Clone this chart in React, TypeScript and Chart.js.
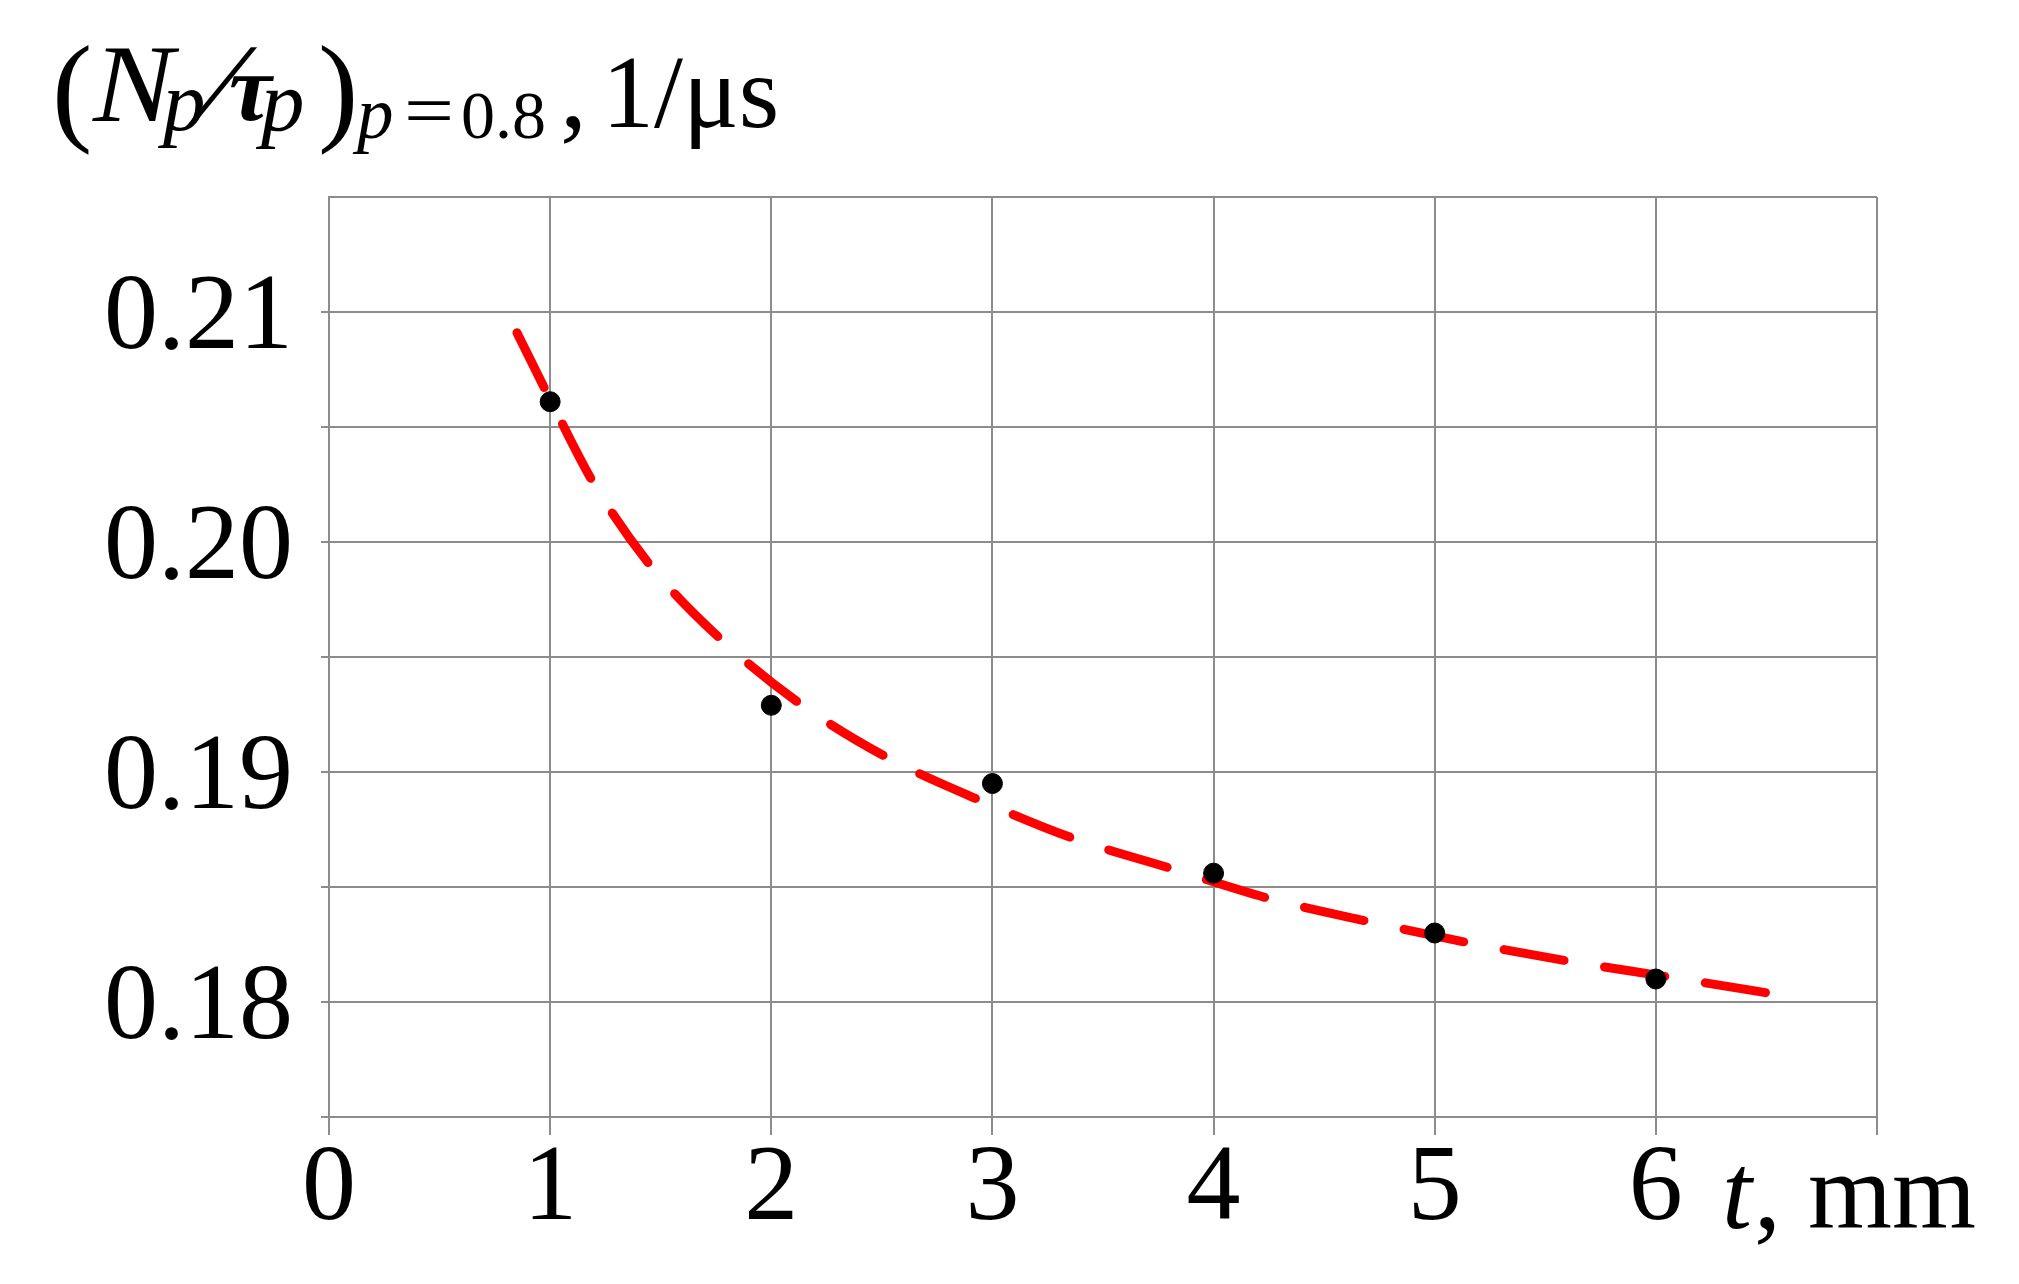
import React, { useEffect, useRef } from 'react';
import { Chart, registerables } from 'chart.js';

Chart.register(...registerables);

// Measured points: thickness t (mm) and (N_p/tau_p) at p = 0.8 (1/us)
const thicknessMm = [1, 2, 3, 4, 5, 6];
const rateValues = [0.2061, 0.1929, 0.1895, 0.1856, 0.183, 0.181];

// Fitted dashed curve
const fitT = [0.85, 1.0, 1.2, 1.46, 1.78, 2.14, 2.53, 2.96, 3.37, 3.81, 4.25, 4.7, 5.14, 5.59, 6.05, 6.5];
const fitRate = [0.2091, 0.2062, 0.2025, 0.1989, 0.1957, 0.1929, 0.1906, 0.1887, 0.1871, 0.1858, 0.1845, 0.1835, 0.1826, 0.1818, 0.1811, 0.1804];

// Tick labels
const xTickLabels = ['0', '1', '2', '3', '4', '5', '6'];
const yTickLabels = ['0.18', '0.19', '0.20', '0.21'];

const SERIF = '"Liberation Serif", "Times New Roman", serif';
const GRID = '#8c8c8c';

const mathTitles = {
  id: 'mathTitles',
  afterDraw(chart: any) {
    const ctx = chart.ctx as CanvasRenderingContext2D;
    ctx.save();
    ctx.fillStyle = '#000';
    ctx.textAlign = 'left';
    ctx.textBaseline = 'alphabetic';
    const put = (text: string, x: number, y: number, size: number, style = '', sx = 1, skew = 0) => {
      ctx.save();
      ctx.translate(x, y);
      ctx.transform(sx, 0, -skew, 1, 0, 0);
      ctx.font = `${style} ${size}px ${SERIF}`;
      ctx.fillText(text, 0, 0);
      ctx.restore();
    };
    // y-axis title: (N_p/τ_p)_{p = 0.8}, 1/μs
    put('(', 52, 129, 121);
    put('N', 93, 121, 110, 'italic', 1.1);
    put('p', 163, 130, 85, 'italic');
    put('/', 192, 125, 118, 'italic', 1, 0.3);
    put('τ', 229, 120, 96, 'italic bold');
    put('p', 261, 130, 87, 'italic');
    put(')', 318, 129, 121);
    put('p', 357, 138, 73, 'italic');
    put('=', 404, 135, 74, '', 1.2);
    put('0.8', 461, 138, 68);
    put(',', 560, 127, 108);
    put('1/μs', 602, 127, 104);
    // x-axis title: t, mm
    put('t', 1722, 1228, 108, 'italic');
    put(', mm', 1754, 1228, 108);
    ctx.restore();
  },
};

export default function App() {
  const canvasRef = useRef<HTMLCanvasElement | null>(null);

  useEffect(() => {
    const canvas = canvasRef.current;
    if (!canvas) return;
    const chart = new Chart(canvas, {
      type: 'scatter',
      data: {
        datasets: [
          {
            label: 'measured',
            data: thicknessMm.map((t, i) => ({ x: t, y: rateValues[i] })),
            backgroundColor: '#000',
            borderColor: '#000',
            pointRadius: 10,
            pointHoverRadius: 10,
            showLine: false,
            order: 0,
          },
          {
            label: 'fit',
            data: fitT.map((t, i) => ({ x: t, y: fitRate[i] })),
            showLine: true,
            borderColor: '#ff0000',
            borderWidth: 9,
            borderDash: [61, 41],
            borderCapStyle: 'round',
            cubicInterpolationMode: 'monotone',
            pointRadius: 0,
            pointHoverRadius: 0,
            fill: false,
            order: 1,
          },
        ],
      },
      options: {
        animation: false,
        responsive: true,
        maintainAspectRatio: false,
        layout: { padding: { left: 0, right: 142, top: 197, bottom: 0 } },
        plugins: {
          legend: { display: false },
          tooltip: { enabled: false },
          title: { display: false },
        },
        scales: {
          x: {
            type: 'linear',
            min: 0,
            max: 7,
            afterFit: (scale: any) => {
              scale.height = 167;
            },
            grid: {
              color: GRID,
              lineWidth: 2,
              tickLength: 18,
              tickColor: GRID,
              tickWidth: 2,
            },
            border: { display: true, color: GRID, width: 2 },
            ticks: {
              stepSize: 1,
              autoSkip: false,
              maxRotation: 0,
              padding: 2,
              color: '#000',
              font: { family: SERIF, size: 108, lineHeight: 1 },
              callback: (v: any) => xTickLabels[Number(v)] ?? '',
            },
          },
          y: {
            type: 'linear',
            min: 0.175,
            max: 0.215,
            afterFit: (scale: any) => {
              scale.width = 329;
            },
            grid: {
              color: GRID,
              lineWidth: 2,
              tickLength: 8,
              tickWidth: 2,
              tickColor: (c: any) => (c.tick && c.tick.value > 0.2125 ? 'rgba(0,0,0,0)' : GRID),
            },
            border: { display: true, color: GRID, width: 2 },
            ticks: {
              stepSize: 0.005,
              autoSkip: false,
              padding: 28,
              labelOffset: 8,
              color: '#000',
              font: { family: SERIF, size: 108, lineHeight: 1 },
              callback: (v: any) => {
                const n = Number(v);
                const s = n.toFixed(2);
                const whole = Math.abs(n * 100 - Math.round(n * 100)) < 1e-6;
                return whole && yTickLabels.includes(s) ? s : '';
              },
            },
          },
        },
      },
      plugins: [mathTitles],
    } as any);
    return () => chart.destroy();
  }, []);

  return (
    <div style={{ position: 'fixed', left: 0, top: 0, width: 2019, height: 1284, background: '#fff' }}>
      <canvas ref={canvasRef} />
    </div>
  );
}
